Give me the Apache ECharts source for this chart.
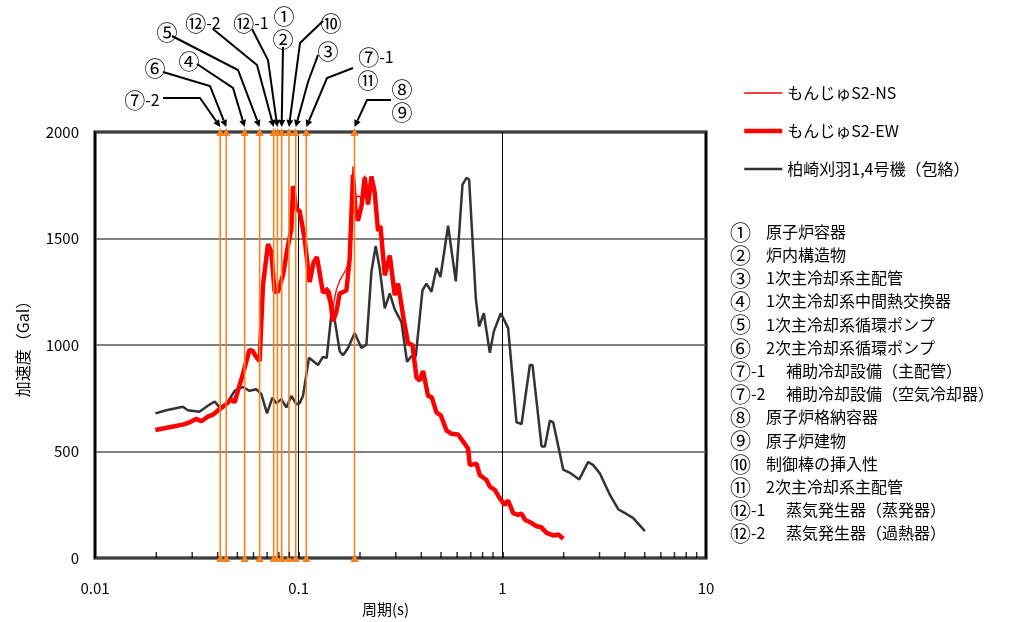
<!DOCTYPE html>
<html><head><meta charset="utf-8">
<script src="https://cdn.jsdelivr.net/npm/echarts@6/dist/echarts.min.js"></script>
<style>html,body{margin:0;padding:0;background:#fff}#c{width:1011px;height:622px}</style>
</head><body><div id="c"></div>
<script>
// ---- data ----
const periodsKK = [0.0198,0.0224,0.0270,0.0286,0.0326,0.0358,0.0387,0.0409,0.0441,0.0485,0.0532,0.0574,0.0620,0.0656,0.0699,0.0743,0.0777,0.0822,0.0870,0.0921,0.0974,0.1011,0.1050,0.1124,0.1244,0.1316,0.1373,0.1464,0.1590,0.1651,0.1747,0.1884,0.2033,0.2151,0.2276,0.2389,0.2500,0.2647,0.2801,0.2963,0.3197,0.3405,0.3579,0.3758,0.4054,0.4241,0.4488,0.4749,0.4968,0.5416,0.5909,0.6374,0.6670,0.6870,0.7410,0.7691,0.8111,0.8682,0.9083,0.983,1.068,1.174,1.243,1.365,1.407,1.558,1.618,1.712,1.777,1.990,2.147,2.385,2.640,2.794,3.014,3.376,3.707,4.0,4.393,5.013];
const accKK = [679,694,710,694,687,715,735,707,722,785,803,785,792,769,679,753,726,746,707,761,722,726,761,940,906,944,940,1187,971,952,986,1056,986,1001,1343,1465,1358,1172,1242,1167,1107,921,947,947,1257,1288,1250,1361,1319,1560,1299,1753,1785,1777,1219,1087,1149,963,1064,1149,1079,637,629,906,906,524,524,645,637,415,400,369,451,436,397,296,229,211,187,126];
const periodsMonju = [0.0198,0.0232,0.0270,0.0291,0.0314,0.0333,0.0358,0.0379,0.0409,0.0441,0.0467,0.0485,0.0503,0.0532,0.0574,0.0596,0.0615,0.0643,0.0668,0.0707,0.0734,0.0762,0.0791,0.0837,0.0886,0.0921,0.0938,0.0974,0.1011,0.1070,0.1132,0.1185,0.1230,0.1316,0.1378,0.1432,0.1475,0.1532,0.1590,0.1716,0.1780,0.1848,0.1900,0.1956,0.2033,0.2110,0.2190,0.2276,0.2363,0.2453,0.2521,0.2647,0.2801,0.2963,0.3076,0.3280,0.3444,0.3620,0.3789,0.3932,0.4081,0.4319,0.4504,0.4749,0.4985,0.5317,0.5630,0.6065,0.6540,0.6791,0.6924,0.7468,0.7752,0.8365,0.8682,0.9185,0.9720,1.029,1.068,1.130,1.196,1.243,1.290,1.392,1.473,1.546,1.649,1.777,1.880,1.990];
const accEW = [601,614,626,637,653,642,664,673,699,722,746,730,785,862,978,971,947,924,1280,1474,1436,1250,1250,1327,1466,1544,1746,1637,1629,1498,1296,1389,1413,1246,1257,1203,1110,1157,1242,1256,1405,1800,1637,1583,1651,1786,1660,1791,1716,1535,1559,1327,1420,1234,1288,1120,1009,1000,847,833,878,761,754,684,670,599,583,580,536,513,436,443,389,366,335,320,280,250,270,211,203,208,180,164,149,146,118,106,110,90];
const accNS = [603,612,628,640,650,645,662,676,697,725,744,733,780,858,975,968,950,928,1275,1470,1440,1255,1262,1330,1460,1540,1740,1640,1625,1502,1300,1385,1408,1255,1270,1250,1180,1260,1302,1358,1400,1839,1690,1700,1690,1795,1680,1791,1710,1540,1555,1330,1415,1240,1285,1125,1012,995,850,836,875,765,750,688,668,602,585,578,540,515,440,446,392,368,338,322,283,252,268,214,205,206,182,166,151,144,120,108,108,92];
const markPeriods = [0.0412,0.0441,0.0543,0.0643,0.0754,0.0786,0.0825,0.0896,0.0967,0.109,0.188];
const minorTicks = [0.02,0.03,0.04,0.05,0.06,0.07,0.08,0.09,0.2,0.3,0.4,0.5,0.6,0.7,0.8,0.9,2,3,4,5,6,7,8,9];
const seriesNames = ['もんじゅS2-NS','もんじゅS2-EW','柏崎刈羽1,4号機（包絡）'];
const listNo = ['①','②','③','④','⑤','⑥','⑦-1','⑦-2','⑧','⑨','⑩','⑪','⑫-1','⑫-2'];
const listName = ['原子炉容器','炉内構造物','1次主冷却系主配管','1次主冷却系中間熱交換器','1次主冷却系循環ポンプ','2次主冷却系循環ポンプ','補助冷却設備（主配管）','補助冷却設備（空気冷却器）','原子炉格納容器','原子炉建物','制御棒の挿入性','2次主冷却系主配管','蒸気発生器（蒸発器）','蒸気発生器（過熱器）'];
const annots = [
 {text:'⑦-2', pos:[142,100], path:[[163,98],[200,98]], mark:0},
 {text:'⑥', pos:[155,68], path:[[163,72],[210,86]], mark:1},
 {text:'④', pos:[189,61], path:[[197,64],[233,88]], mark:2},
 {text:'⑤', pos:[167,32], path:[[172,36],[238,70]], mark:3},
 {text:'⑫-2', pos:[203,23], path:[[213,29],[257,65]], mark:4},
 {text:'⑫-1', pos:[251,23], path:[[252,29],[268,60]], mark:5},
 {text:'①', pos:[284,16]},
 {text:'②', pos:[283,39], path:[[283,47]], mark:6},
 {text:'⑩', pos:[331,23], path:[[323,21],[300,43]], mark:7},
 {text:'③', pos:[328,51], path:[[318,55],[308,82]], mark:8},
 {text:'⑦-1', pos:[376,57], path:[[353,68],[327,78]], mark:9},
 {text:'⑪', pos:[368,80]},
 {text:'⑧', pos:[402,89]},
 {text:'⑨', pos:[402,112], path:[[391,100],[367,100]], mark:10}
];

const FONT = "'Noto Sans CJK JP', sans-serif";
const zip = (xs, ys) => xs.map((x, i) => [x, ys[i]]);
const ORANGE = '#f5821f';

const chart = echarts.init(document.getElementById('c'), null, {renderer:'canvas'});
const series = [
  {name: seriesNames[2], type:'line', data: zip(periodsKK, accKK), symbol:'none', lineStyle:{color:'#333', width:2.5}, itemStyle:{color:'#333', opacity:0}, z:3},
  {name: seriesNames[1], type:'line', data: zip(periodsMonju, accEW), symbol:'none', lineStyle:{color:'#ff0000', width:4.5}, itemStyle:{color:'#ff0000', opacity:0}, z:4},
  {name: seriesNames[0], type:'line', data: zip(periodsMonju, accNS), symbol:'none', lineStyle:{color:'#ff0000', width:1.3}, itemStyle:{color:'#ff0000', opacity:0}, z:5}
];
markPeriods.forEach((t, i) => {
  series.push({name:'m'+i, type:'line', data:[[t,0],[t,2000]], symbol:'triangle', symbolSize:8, clip:false, silent:true,
    lineStyle:{color:ORANGE, width:1.6}, itemStyle:{color:ORANGE}, z:6});
});
series.push({name:'minor', type:'scatter', data: minorTicks.map(v => [v, 0]), symbol:'rect', symbolSize:[1.5,6], symbolOffset:[0,-3], clip:false, silent:true, itemStyle:{color:'#000'}, z:7});

chart.setOption({
  animation:false,
  textStyle:{fontFamily:FONT},
  grid:{left:95, right:305, top:132, bottom:60, show:true, borderColor:'#000', borderWidth:3, backgroundColor:'#fff'},
  legend:{orient:'vertical', left:742, top:85, padding:0, itemWidth:38, itemHeight:12, itemGap:22,
    itemStyle:{opacity:0},
    data:[{name:seriesNames[0], lineStyle:{width:1.3}}, {name:seriesNames[1], lineStyle:{width:4.5}}, {name:seriesNames[2], lineStyle:{width:2.5}}],
    textStyle:{fontFamily:FONT, fontSize:16, color:'#000'}},
  xAxis:{type:'log', logBase:10, min:0.01, max:10,
    name:'周期(s)', nameLocation:'middle', nameGap:44, nameTextStyle:{fontFamily:FONT, fontSize:15, color:'#000', padding:[0,30,0,0]},
    axisLine:{show:false}, axisTick:{show:true, inside:true, length:6, lineStyle:{color:'#000', width:1.5}},
    axisLabel:{fontFamily:FONT, fontSize:15, color:'#000', margin:23, formatter: v => String(v)},
    splitLine:{show:true, lineStyle:{color:'#000', width:1}}, minorTick:{show:false}},
  yAxis:{type:'value', min:0, max:2000, interval:500,
    name:'加速度（Gal）', nameLocation:'middle', nameGap:64, nameRotate:90, nameTextStyle:{fontFamily:FONT, fontSize:16, color:'#000'},
    axisLine:{show:false}, axisTick:{show:false},
    axisLabel:{fontFamily:FONT, fontSize:15, color:'#000', margin:16, formatter: v => String(v)},
    splitLine:{show:true, lineStyle:{color:'#555', width:1.5}}},
  series: series
});

// ---- annotations & list ----
const richStyle = {c:{font:'21px ' + FONT, fill:'#000'}, r:{font:'16px ' + FONT, fill:'#000'}};
const richText = s => '{c|' + s.charAt(0) + '}' + (s.length > 1 ? '{r|' + s.slice(1) + '}' : '');
const g = [];
annots.forEach(a => {
  g.push({type:'text', silent:true, style:{text:richText(a.text), rich:richStyle, x:a.pos[0], y:a.pos[1], fill:'#000', align:'center', verticalAlign:'middle'}});
  if (a.path) {
    const tip = chart.convertToPixel({xAxisIndex:0, yAxisIndex:0}, [markPeriods[a.mark], 2000]);
    tip[1] -= 5;
    const pts = a.path.concat([tip]);
    const prev = pts[pts.length - 2];
    const dx = tip[0] - prev[0], dy = tip[1] - prev[1], L = Math.hypot(dx, dy);
    const ux = dx / L, uy = dy / L;
    const baseX = tip[0] - ux * 7, baseY = tip[1] - uy * 7;
    g.push({type:'polyline', silent:true, shape:{points: pts.slice(0, -1).concat([[baseX, baseY]])}, style:{stroke:'#000', lineWidth:2, fill:null}});
    g.push({type:'polygon', silent:true, shape:{points:[tip, [baseX - uy * 3.5, baseY + ux * 3.5], [baseX + uy * 3.5, baseY - ux * 3.5]]}, style:{fill:'#000'}});
  }
});
listNo.forEach((n, i) => {
  const y = 231.7 + i * 23.2;
  const wide = n.length > 1;
  g.push({type:'text', silent:true, style:{text:richText(n), rich:richStyle, x:730, y:y, fill:'#000', align:'left', verticalAlign:'middle'}});
  g.push({type:'text', silent:true, style:{text:listName[i], x: wide ? 786 : 766, y:y, font:'16px ' + FONT, fill:'#000', align:'left', verticalAlign:'middle'}});
});
chart.setOption({graphic: g});
</script>
</body></html>
